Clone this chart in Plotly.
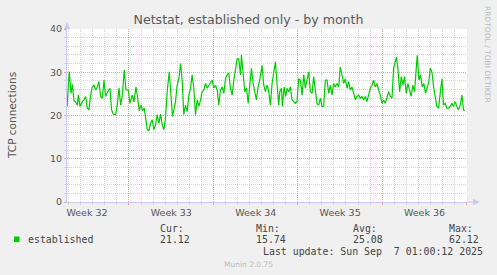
import pandas as pd
import plotly.graph_objects as go

# ---- data ----
start_time = "2025-08-04 20:40"
end_time = "2025-09-07 01:00:12"
day_offsets = [
    0.0, 0.19, 0.33, 0.44, 0.58, 0.72, 0.86, 0.94, 1.08, 1.27, 1.41, 1.55, 1.68, 1.82, 1.96,
    2.10, 2.24, 2.38, 2.51, 2.65, 2.79, 2.93, 3.07, 3.20, 3.37, 3.56, 3.70, 3.84, 4.03, 4.17,
    4.31, 4.45, 4.58, 4.75, 4.89, 5.08, 5.22, 5.41, 5.55, 5.72, 5.85, 5.99, 6.13, 6.27, 6.41,
    6.55, 6.66, 6.79, 6.93, 7.07, 7.21, 7.35, 7.48, 7.62, 7.76, 7.90, 8.04, 8.17, 8.31, 8.48,
    8.62, 8.75, 8.89, 9.00, 9.14, 9.28, 9.42, 9.56, 9.69, 9.83, 9.97, 10.11, 10.25, 10.38,
    10.52, 10.66, 10.80, 10.94, 11.08, 11.21, 11.35, 11.49, 11.63, 11.77, 11.90, 12.04, 12.18,
    12.32, 12.46, 12.59, 12.73, 12.87, 13.01, 13.15, 13.28, 13.42, 13.56, 13.70, 13.84, 13.97,
    14.11, 14.25, 14.39, 14.47, 14.61, 14.75, 14.89, 15.03, 15.16, 15.30, 15.44, 15.58, 15.71,
    15.85, 15.99, 16.18, 16.32, 16.46, 16.60, 16.74, 16.87, 17.01, 17.15, 17.29, 17.43, 17.56,
    17.65, 17.79, 17.87, 18.01, 18.14, 18.25, 18.39, 18.53, 18.67, 18.81, 18.95, 19.08, 19.22,
    19.36, 19.50, 19.64, 19.77, 19.91, 20.05, 20.19, 20.33, 20.46, 20.60, 20.74, 20.88, 21.02,
    21.15, 21.29, 21.43, 21.57, 21.71, 21.85, 21.98, 22.12, 22.26, 22.40, 22.54, 22.67, 22.81,
    22.95, 23.09, 23.23, 23.36, 23.50, 23.64, 23.78, 23.92, 24.05, 24.19, 24.33, 24.47, 24.61,
    24.75, 24.88, 25.02, 25.16, 25.30, 25.44, 25.57, 25.71, 25.85, 25.99, 26.13, 26.26, 26.40,
    26.54, 26.68, 26.82, 26.96, 27.09, 27.23, 27.32, 27.45, 27.59, 27.73, 27.87, 28.00, 28.14,
    28.28, 28.42, 28.55, 28.69, 28.83, 28.97, 29.05, 29.19, 29.33, 29.47, 29.60, 29.74, 29.88,
    30.02, 30.13, 30.27, 30.41, 30.54, 30.68, 30.82, 30.96, 31.10, 31.23, 31.37, 31.51, 31.65,
    31.79, 31.93, 32.06, 32.20, 32.34, 32.48, 32.62, 32.76, 32.89, 33.00,
]
established = [
    22.1, 30.1, 25.1, 27.2, 23.4, 23.1, 22.4, 24.7, 22.1, 23.2, 23.6, 24.4, 21.7, 21.3, 24.7,
    26.6, 27.0, 25.9, 26.6, 27.8, 24.4, 24.0, 28.2, 24.4, 25.5, 26.3, 21.3, 20.3, 20.2, 22.4,
    26.4, 22.4, 24.4, 30.5, 25.9, 25.9, 22.8, 24.7, 23.1, 26.6, 24.4, 21.1, 22.4, 21.1, 21.7,
    19.4, 16.7, 16.5, 18.2, 19.0, 16.7, 17.9, 20.2, 18.2, 20.3, 17.9, 16.7, 19.4, 25.5, 30.1,
    25.5, 19.8, 21.7, 23.2, 27.0, 28.5, 32.0, 27.8, 20.2, 22.4, 20.9, 24.7, 26.3, 29.4,
    26.3, 20.2, 23.6, 22.1, 23.6, 25.5, 25.9, 27.4, 26.3, 27.0, 27.4, 28.2, 26.3,
    27.0, 25.9, 22.4, 25.9, 26.6, 25.1, 28.5, 29.4, 29.8, 26.3, 24.7, 28.2, 30.5,
    33.1, 33.1, 29.4, 34.0, 29.4, 25.5, 26.3, 22.8, 27.0, 30.9, 27.4, 25.5, 23.6,
    26.6, 28.2, 31.6, 27.0, 25.5, 27.0, 25.5, 22.4, 27.4, 30.5, 32.4, 27.0, 22.4,
    25.5, 26.3, 22.1, 26.6, 24.4, 26.3, 25.5, 26.6, 23.6, 23.2, 22.8, 23.2, 28.5,
    28.2, 24.7, 29.4, 26.3, 28.2, 30.1, 25.5, 25.1, 29.0, 25.5, 22.8, 22.4, 24.0,
    22.1, 22.1, 28.2, 28.2, 25.1, 27.0, 24.7, 27.4, 26.6, 27.4, 26.6, 31.2, 29.4,
    27.4, 28.5, 26.3, 27.8, 25.9, 26.6, 25.1, 23.6, 24.4, 24.7, 24.0, 24.4, 23.6,
    24.4, 23.2, 24.7, 26.3, 27.0, 28.2, 26.6, 27.4, 25.9, 24.7, 22.8, 23.6, 22.8,
    24.4, 25.5, 24.4, 24.0, 30.9, 32.4, 33.5, 30.9, 25.5, 29.0, 27.0, 29.0, 25.1,
    27.4, 25.5, 24.4, 27.0, 25.5, 30.9, 33.9, 28.2, 29.4, 26.6, 27.4, 25.1, 26.3,
    27.8, 30.9, 30.1, 26.6, 24.4, 22.1, 21.7, 25.5, 28.5, 22.4, 22.8, 21.7, 21.7,
    22.1, 22.8, 22.1, 23.2, 22.1, 21.3, 22.4, 24.7, 21.3, 21.1,
]
week_ticks = ["2025-08-10", "2025-08-17", "2025-08-24", "2025-08-31", "2025-09-07"]
week_labels = ["Week 32", "Week 33", "Week 34", "Week 35", "Week 36"]
y_range = [0, 40]
legend_name = "established"
stat_names = ["Cur:", "Min:", "Avg:", "Max:"]
stat_values = ["21.12", "15.74", "25.08", "62.12"]

times = pd.Timestamp(start_time) + pd.to_timedelta(day_offsets, unit="D")

# ---- layout geometry (pixels) ----
W, H = 497, 275
L, R, T, B = 67, 30, 29, 73
PW, PH = W - L - R, H - T - B


def px(x):
    return (x - L) / PW


def py(y):
    return (H - B - y) / PH


MAJOR = "#F0A0A0"
MINOR = "#D6D6D6"
AXIS = "#C8C8F0"
GREEN = "#00CC00"
TXT = "#444444"
DOT = "1px,1px"

fig = go.Figure()
fig.add_trace(go.Scatter(x=times, y=established, mode="lines", name=legend_name,
                         line=dict(color=GREEN, width=1.2), showlegend=False,
                         hoverinfo="skip"))

fig.update_layout(
    width=W, height=H, margin=dict(l=L, r=R, t=T, b=B, pad=0),
    paper_bgcolor="#F0F0F0", plot_bgcolor="#FFFFFF",
    font=dict(family="DejaVu Sans", size=10, color="#555555"),
    title=dict(text="Netstat, established only - by month", x=0.5, xanchor="center",
               y=1 - 19.5 / H, yanchor="middle",
               font=dict(family="DejaVu Sans", size=12.6, color="#5a5a5a")),
)

# main x axis: week labels + daily minor grid
fig.update_layout(xaxis=dict(
    type="date", range=[start_time, end_time],
    tickmode="array", tickvals=week_ticks, ticktext=week_labels,
    ticklabelshift=-42, tickfont=dict(size=9.5, color="#555555"),
    showgrid=False, ticks="outside", ticklen=2, tickcolor=MAJOR,
    minor=dict(tickmode="linear", tick0="2025-08-10", dtick=86400000, showgrid=True,
               gridcolor=MINOR, griddash=DOT, gridwidth=1,
               ticks="outside", ticklen=2, tickcolor=MINOR),
    showline=True, linecolor=AXIS, linewidth=1, zeroline=False, fixedrange=True,
))
# overlay x axis carrying only the weekly (major) grid, drawn above the daily grid
fig.update_layout(xaxis2=dict(
    type="date", range=[start_time, end_time], overlaying="x", side="bottom",
    tickmode="array", tickvals=week_ticks, showticklabels=False, ticks="",
    showgrid=True, gridcolor=MAJOR, griddash=DOT, gridwidth=1,
    showline=False, zeroline=False, fixedrange=True,
))
fig.add_trace(go.Scatter(x=[], y=[], xaxis="x2", yaxis="y", showlegend=False,
                         hoverinfo="skip"))

fig.update_yaxes(
    range=y_range, tickmode="linear", tick0=0, dtick=10,
    tickfont=dict(size=9.5, color="#555555"),
    showgrid=True, gridcolor=MAJOR, griddash=DOT, gridwidth=1,
    ticks="outside", ticklen=2, tickcolor=MAJOR,
    minor=dict(tickmode="linear", tick0=0, dtick=2, showgrid=True,
               gridcolor=MINOR, griddash=DOT, gridwidth=1,
               ticks="outside", ticklen=2, tickcolor=MINOR),
    showline=True, linecolor=AXIS, linewidth=1, zeroline=False, fixedrange=True,
)

# axis arrows
fig.add_shape(type="path", xref="paper", yref="paper", xsizemode="pixel", ysizemode="pixel",
              xanchor=0, yanchor=1, path="M -3,0 L 3,0 L 0,7 Z",
              fillcolor=AXIS, line=dict(width=0))
fig.add_shape(type="line", xref="paper", yref="paper", x0=1, x1=1 + 6 / PW, y0=0, y1=0,
              line=dict(color=AXIS, width=1))
fig.add_shape(type="path", xref="paper", yref="paper", xsizemode="pixel", ysizemode="pixel",
              xanchor=1 + 6 / PW, yanchor=0, path="M 0,-3 L 0,3 L 7,0 Z",
              fillcolor=AXIS, line=dict(width=0))

ann = []
ann.append(dict(text="TCP connections", x=px(12), y=py(115), textangle=-90,
                font=dict(family="DejaVu Sans", size=10.5, color="#555555")))
ann.append(dict(text="RRDTOOL / TOBI OETIKER", x=px(488), y=py(54), textangle=90,
                font=dict(family="DejaVu Sans", size=7.5, color="#BBBBBB")))
mono = dict(family="DejaVu Sans Mono", size=9.9, color=TXT)
ann.append(dict(text=legend_name, x=px(26), y=py(239.5), xanchor="left", font=mono))
stat_x = [158, 254, 351, 447]
for sx, name, val in zip(stat_x, stat_names, stat_values):
    ann.append(dict(text=name, x=px(sx), y=py(228), xanchor="left", font=mono))
    ann.append(dict(text=val, x=px(sx), y=py(239.5), xanchor="left", font=mono))
ann.append(dict(text="Last update: Sun Sep  7 01:00:12 2025".replace("  ", "&nbsp; "),
                x=px(261), y=py(251.5), xanchor="left", font=mono))
ann.append(dict(text="Munin 2.0.75", x=px(248), y=py(264),
                font=dict(family="DejaVu Sans", size=7.5, color="#BBBBBB")))
for a in ann:
    a.update(xref="paper", yref="paper", showarrow=False)
    a.setdefault("xanchor", "center")
    a.setdefault("yanchor", "middle")
fig.update_layout(annotations=ann)

fig.add_shape(type="rect", xref="paper", yref="paper", x0=px(14), x1=px(19.5),
              y0=py(242), y1=py(236.5), fillcolor=GREEN, line=dict(width=0))

fig.write_html("out.html", config={"displayModeBar": False})
